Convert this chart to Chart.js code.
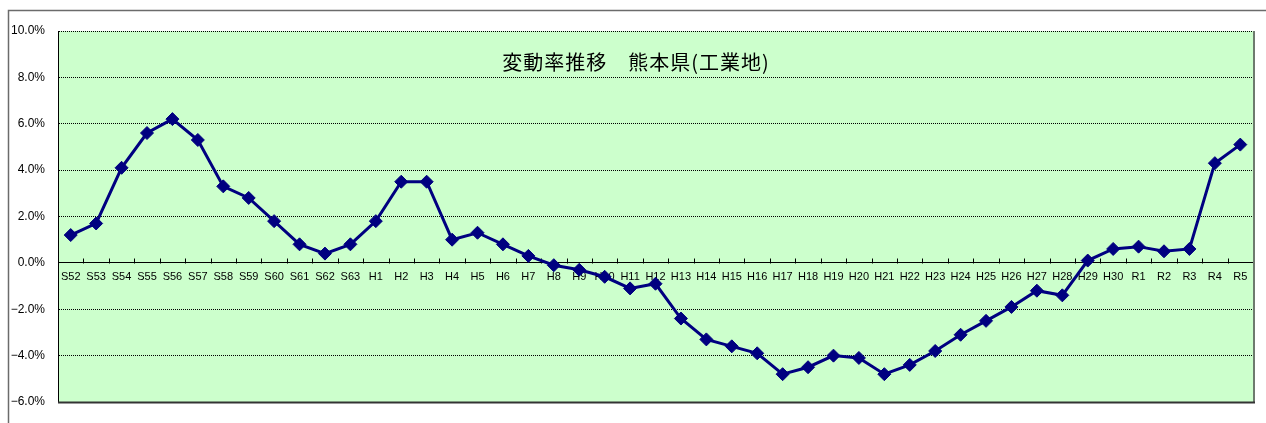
<!DOCTYPE html>
<html>
<head>
<meta charset="utf-8">
<script src="https://cdn.jsdelivr.net/npm/chart.js@4/dist/chart.umd.min.js"></script>
<style>
  html, body { margin: 0; padding: 0; background: #fff; }
</style>
</head>
<body>
<canvas id="chart1" width="1266" height="423"></canvas>
<script>
var labels = ['S52', 'S53', 'S54', 'S55', 'S56', 'S57', 'S58', 'S59', 'S60', 'S61', 'S62', 'S63',
  'H1', 'H2', 'H3', 'H4', 'H5', 'H6', 'H7', 'H8', 'H9', 'H10', 'H11', 'H12', 'H13', 'H14', 'H15',
  'H16', 'H17', 'H18', 'H19', 'H20', 'H21', 'H22', 'H23', 'H24', 'H25', 'H26', 'H27', 'H28', 'H29',
  'H30', 'R1', 'R2', 'R3', 'R4', 'R5'];
var rates = [1.2, 1.7, 4.1, 5.6, 6.2, 5.3, 3.3, 2.8, 1.8, 0.8, 0.4, 0.8,
  1.8, 3.5, 3.5, 1.0, 1.3, 0.8, 0.3, -0.1, -0.3, -0.6, -1.1, -0.9, -2.4, -3.3, -3.6,
  -3.9, -4.8, -4.5, -4.0, -4.1, -4.8, -4.4, -3.8, -3.1, -2.5, -1.9, -1.2, -1.4, 0.1,
  0.6, 0.7, 0.5, 0.6, 4.3, 5.1];
var yTicks = [-6, -4, -2, 0, 2, 4, 6, 8, 10];
var titleText = '変動率推移　熊本県(工業地)';

Chart.defaults.font.family = "'Liberation Sans', Arial, sans-serif";
Chart.defaults.color = '#000';

// background, frame, category tick marks and title
var framePlugin = {
  id: 'frame',
  beforeDraw: function (chart) {
    var ctx = chart.ctx;
    var a = chart.chartArea;
    ctx.save();
    ctx.fillStyle = '#fff';
    ctx.fillRect(0, 0, chart.width, chart.height);
    ctx.strokeStyle = '#6b6b6b';
    ctx.lineWidth = 1.5;
    ctx.beginPath();
    ctx.moveTo(chart.width, 10.5);
    ctx.lineTo(8.5, 10.5);
    ctx.lineTo(8.5, chart.height);
    ctx.stroke();
    ctx.fillStyle = '#ccffcc';
    ctx.fillRect(a.left, a.top, a.right - a.left, a.bottom - a.top);
    ctx.restore();
  },
  beforeDatasetsDraw: function (chart) {
    var ctx = chart.ctx;
    var a = chart.chartArea;
    var x = chart.scales.x;
    var y0 = Math.round(chart.scales.y.getPixelForValue(0)) + 0.5;
    ctx.save();
    ctx.strokeStyle = '#000';
    ctx.lineWidth = 1;
    ctx.beginPath();
    for (var i = 0; i <= labels.length; i++) {
      var px = Math.round(x.getPixelForValue(i - 0.5)) + 0.5;
      ctx.moveTo(px, y0);
      ctx.lineTo(px, y0 - 5);
    }
    ctx.stroke();
    // right and bottom edge of the plot
    ctx.strokeStyle = '#6e7a6e';
    ctx.lineWidth = 2;
    ctx.beginPath();
    ctx.moveTo(a.right + 1, a.top);
    ctx.lineTo(a.right + 1, a.bottom + 1);
    ctx.stroke();
    ctx.strokeStyle = '#333';
    ctx.beginPath();
    ctx.moveTo(a.left, a.bottom + 0.5);
    ctx.lineTo(a.right + 2, a.bottom + 0.5);
    ctx.stroke();
    ctx.fillStyle = '#000';
    ctx.font = "20px 'Noto Sans CJK JP', sans-serif";
    ctx.letterSpacing = '1px';
    ctx.textAlign = 'center';
    ctx.textBaseline = 'middle';
    ctx.fillText(titleText, 636, a.top + 31);
    ctx.restore();
  }
};

var ctx = document.getElementById('chart1').getContext('2d');
var chart = new Chart(ctx, {
  type: 'line',
  data: {
    labels: labels,
    datasets: [{
      label: titleText,
      data: rates,
      borderColor: '#000080',
      backgroundColor: '#000080',
      borderWidth: 3,
      pointStyle: 'rectRot',
      pointRadius: 6.5,
      pointBorderWidth: 1,
      tension: 0
    }]
  },
  options: {
    responsive: false,
    animation: false,
    layout: {
      padding: { top: 31, right: 13, bottom: 21, left: 0 }
    },
    plugins: {
      legend: { display: false },
      title: { display: false },
      tooltip: { enabled: false }
    },
    scales: {
      x: {
        position: { y: 0 },
        offset: true,
        grid: { display: false, drawTicks: false },
        border: { display: true, color: '#000', width: 1 },
        ticks: {
          autoSkip: false,
          maxRotation: 0,
          padding: 7,
          font: { size: 11 }
        }
      },
      y: {
        min: -6,
        max: 10,
        afterFit: function (scale) { scale.width = 58; },
        afterBuildTicks: function (scale) {
          scale.ticks = yTicks.map(function (v) { return { value: v }; });
        },
        grid: { color: '#000', lineWidth: 1, drawTicks: false },
        border: { display: true, color: '#000', width: 1, dash: [1, 1] },
        ticks: {
          padding: 13,
          font: { size: 12 },
          callback: function (v) {
            return (v < 0 ? '\u2212' : '') + Math.abs(v).toFixed(1) + '%';
          }
        }
      }
    }
  },
  plugins: [framePlugin]
});
</script>
</body>
</html>
